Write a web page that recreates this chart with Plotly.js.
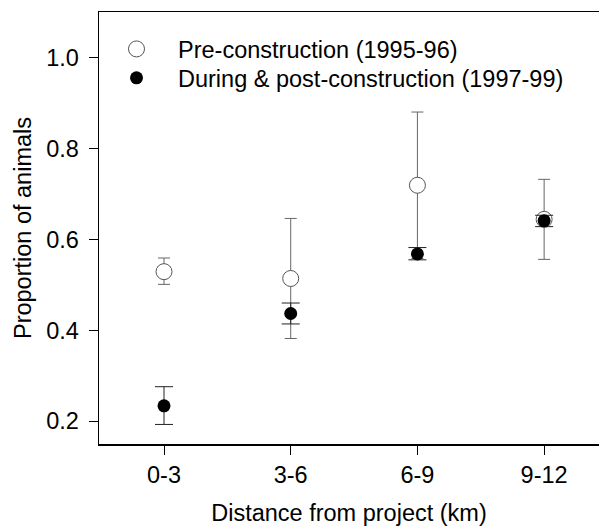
<!DOCTYPE html>
<html>
<head>
<meta charset="utf-8">
<script src="https://cdn.plot.ly/plotly-3.0.1.min.js"></script>
<style>html,body{margin:0;padding:0;background:#fff;}#chart{width:599px;height:530px;}</style>
</head>
<body>
<div id="chart"></div>
<script>
const categories = ["0-3", "3-6", "6-9", "9-12"];
const positions = [1, 2, 3, 4];
const preMean = [0.529, 0.514, 0.719, 0.644];
const preLow = [0.501, 0.382, 0.558, 0.556];
const preHigh = [0.559, 0.646, 0.880, 0.732];
const postMean = [0.234, 0.437, 0.568, 0.641];
const postLow = [0.193, 0.414, 0.555, 0.628];
const postHigh = [0.276, 0.460, 0.582, 0.653];
const yTicks = [0.2, 0.4, 0.6, 0.8, 1.0];
const yTickText = ['0.2', '0.4', '0.6', '0.8', '1.0'];

const fontFam = '"Liberation Sans", Arial, sans-serif';
const FS = 23.5;

const pre = {
  x: positions, y: preMean, type: 'scatter', mode: 'markers',
  name: 'Pre-construction (1995-96)', legend: 'legend',
  marker: {symbol: 'circle', size: 16, color: '#ffffff', line: {color: '#555', width: 1}},
  error_y: {type: 'data', symmetric: false,
    array: preHigh.map((h, i) => h - preMean[i]),
    arrayminus: preMean.map((m, i) => m - preLow[i]),
    color: '#666', thickness: 1, width: 6}
};
const post = {
  x: positions, y: postMean, type: 'scatter', mode: 'markers',
  name: 'During & post-construction (1997-99)', legend: 'legend2',
  marker: {symbol: 'circle', size: 13, color: '#000000', line: {color: '#000', width: 0}},
  error_y: {type: 'data', symmetric: false,
    array: postHigh.map((h, i) => h - postMean[i]),
    arrayminus: postMean.map((m, i) => m - postLow[i]),
    color: '#222', thickness: 1, width: 9}
};

const legCommon = {xanchor: 'left', yanchor: 'middle', bgcolor: 'rgba(0,0,0,0)',
  font: {family: fontFam, size: FS, color: '#000'}, itemwidth: 73, borderwidth: 0};

const layout = {
  width: 599, height: 530,
  margin: {l: 99, r: 0, t: 12, b: 86},
  paper_bgcolor: '#fff', plot_bgcolor: '#fff',
  font: {family: fontFam, size: FS, color: '#000'},
  showlegend: true,
  legend: Object.assign({x: -0.008, y: 0.914}, legCommon),
  legend2: Object.assign({x: -0.008, y: 0.847}, legCommon),
  xaxis: {
    range: [0.487, 4.433], tickvals: positions, ticktext: categories,
    showgrid: false, zeroline: false, showline: true, linecolor: '#000', linewidth: 1.5,
    mirror: true, ticks: 'outside', ticklen: 9, tickcolor: '#000', tickwidth: 1,
    tickfont: {family: fontFam, size: FS},
    title: {text: 'Distance from project (km)', font: {family: fontFam, size: FS}, standoff: 18}
  },
  yaxis: {
    range: [0.15, 1.1], tickvals: yTicks, ticktext: yTickText,
    showgrid: false, zeroline: false, showline: true, linecolor: '#000', linewidth: 1.5,
    ticks: 'outside', ticklen: 9, tickcolor: '#000', tickwidth: 1, ticklabelstandoff: 5,
    tickfont: {family: fontFam, size: FS},
    title: {text: 'Proportion of animals', font: {family: fontFam, size: FS}, standoff: 8}
  }
};

Plotly.newPlot('chart', [pre, post], layout, {displayModeBar: false, staticPlot: true});
</script>
</body>
</html>
